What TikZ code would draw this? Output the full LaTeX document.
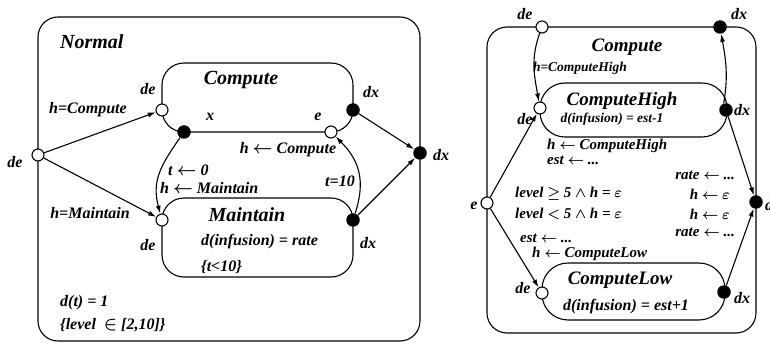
\documentclass[tikz,border=0pt]{standalone}
\usepackage{fontspec}
\setmainfont{Liberation Serif}
\usetikzlibrary{arrows.meta}
\newcommand{\la}{\ensuremath{\leftarrow}}
\begin{document}
\begin{tikzpicture}[x=1pt,y=-1pt,
  every node/.style={inner sep=0pt},
  ln/.style={line width=1.1pt},
  box/.style={ln,draw,rounded corners=#1},
  ent/.style={circle,draw,ln,fill=white,minimum size=12pt},
  exn/.style={circle,fill=black,minimum size=13.5pt},
  arr/.style={ln,-{Latex[length=8pt,width=5pt]}},
  big/.style={font=\fontsize{20}{22}\selectfont\bfseries\itshape\boldmath},
  bigr/.style={font=\fontsize{19}{21}\selectfont\bfseries\itshape\boldmath},
  lab/.style={font=\fontsize{16}{18}\selectfont\bfseries\itshape\boldmath},
  labr/.style={font=\fontsize{15}{17}\selectfont\bfseries\itshape\boldmath},
  labs/.style={font=\fontsize{13.5}{15}\selectfont\bfseries\itshape\boldmath},
]
\useasboundingbox (0,0) rectangle (770,347);

% ---------------- left: Normal ----------------
\draw[box=20] (38,17) rectangle (420,341);
\draw[box=22] (162,63) rectangle (353,132);
\draw[box=22] (162,198) rectangle (353,277);

\node[ent] (nde) at (38,155) {};
\node[exn] (ndx) at (420,153) {};
\node[ent] (cde) at (162,110) {};
\node[exn] (cx) at (184,132) {};
\node[ent] (ce) at (331,132) {};
\node[exn] (cdx) at (353,110) {};
\node[ent] (mde) at (162,220) {};
\node[exn] (mdx) at (353,220) {};

\node[big,anchor=west] (tnormal) at (60,42) {Normal};
\node[big] (tcompute) at (241,80) {Compute};
\node[big] (tmaintain) at (247,215) {Maintain};
\node[lab,anchor=west] (tmeq) at (201,242) {d(infusion) = rate};
\node[lab,anchor=west] (tmin) at (201,267) {\{t<10\}};
\node[lab,anchor=west] (tdt) at (60,303) {d(t) = 1};
\node[lab,anchor=west] (tlev) at (60,325) {\{level \ $\in$ [2,10]\}};

\node[lab] (lnde) at (15,162) {de};
\node[lab] (lcde) at (148,89) {de};
\node[lab] (lcx) at (210,117) {x};
\node[lab] (lce) at (318,117) {e};
\node[lab] (lcdx) at (371,92) {dx};
\node[lab] (lmde) at (148,245) {de};
\node[lab] (lmdx) at (368,243) {dx};
\node[lab] (lndx) at (441,155) {dx};

\draw[arr] (nde) -- (cde);
\draw[arr] (nde) -- (mde);
\node[lab] (thcomp) at (88,110) {h=Compute};
\node[lab] (thmain) at (90,213) {h=Maintain};
\draw[arr] (cdx) -- (ndx);
\draw[arr] (mdx) -- (ndx);
\draw[arr] (cx) to[out=235,in=105,looseness=1.1] (mde);
\draw[arr] (mdx) to[out=72,in=-45,looseness=1.1] (ce);

\node[lab,anchor=west] (tt0) at (168,170) {t \la\ 0};
\node[lab,anchor=west] (thm) at (160,188) {h \la\ Maintain};
\node[lab] (tt10) at (340,181) {t=10};
\node[lab] (thc) at (288,150) {h \la\ Compute};

% ---------------- right: Compute ----------------
\draw[box=20] (487,27) rectangle (756,333);
\draw[box=25] (540,83) rectangle (727,137);
\draw[box=26] (542,263) rectangle (725,320);

\node[ent] (rde) at (542,27) {};
\node[exn] (rdx) at (720,27) {};
\node[ent] (re) at (487,203) {};
\node[exn] (rxx) at (756,202) {};
\node[ent] (hde) at (540,108) {};
\node[exn] (hdx) at (726,110) {};
\node[ent] (lde) at (542,293) {};
\node[exn] (ldx) at (724,292) {};

\node[lab] (lrde) at (525,14) {de};
\node[lab] (lrdx) at (739,14) {dx};
\node[lab] (lre) at (474,206) {e};
\node[lab,anchor=west] (lrxx) at (765,205) {dx};
\node[lab] (lhde) at (525,119) {de};
\node[lab] (lhdx) at (742,110) {dx};
\node[lab] (llde) at (523,288) {de};
\node[lab] (lldx) at (742,298) {dx};

\node[bigr] (tcomp) at (627,47) {Compute};
\node[labs] (thch) at (580,68) {h=ComputeHigh};
\node[bigr] (tch) at (622,101) {ComputeHigh};
\node[labs] (tcheq) at (612,119) {d(infusion) = est-1};
\node[bigr] (tcl) at (620,280) {ComputeLow};
\node[lab] (tcleq) at (626,307) {d(infusion) = est+1};

\draw[arr] (rde) to[out=-110,in=100] (hde);
\draw[arr] (hdx.110) to[out=80,in=-80] (rdx);
\draw[arr] (re) -- (hde);
\draw[arr] (re) -- (lde);
\draw[arr] (hdx) -- (rxx);
\draw[arr] (ldx) -- (rxx);

\node[labr,anchor=west] (g1) at (547,146) {h \la\ ComputeHigh};
\node[labr,anchor=west] (g2) at (547,160) {est \la\ ...};
\node[labr,anchor=east] (g3) at (735,175) {rate \la\ ...};
\node[labr,anchor=west] (g4) at (515,194) {level $\geq$ 5 $\wedge$ h = $\varepsilon$};
\node[labr,anchor=east] (g5) at (730,194) {h \la\ $\varepsilon$};
\node[labr,anchor=west] (g6) at (515,214) {level $<$ 5 $\wedge$ h = $\varepsilon$};
\node[labr,anchor=east] (g7) at (730,214) {h \la\ $\varepsilon$};
\node[labr,anchor=east] (g8) at (735,232) {rate \la\ ...};
\node[labr,anchor=west] (g9) at (520,238) {est \la\ ...};
\node[labr,anchor=west] (g10) at (532,254) {h \la\ ComputeLow};
\end{tikzpicture}
\end{document}
